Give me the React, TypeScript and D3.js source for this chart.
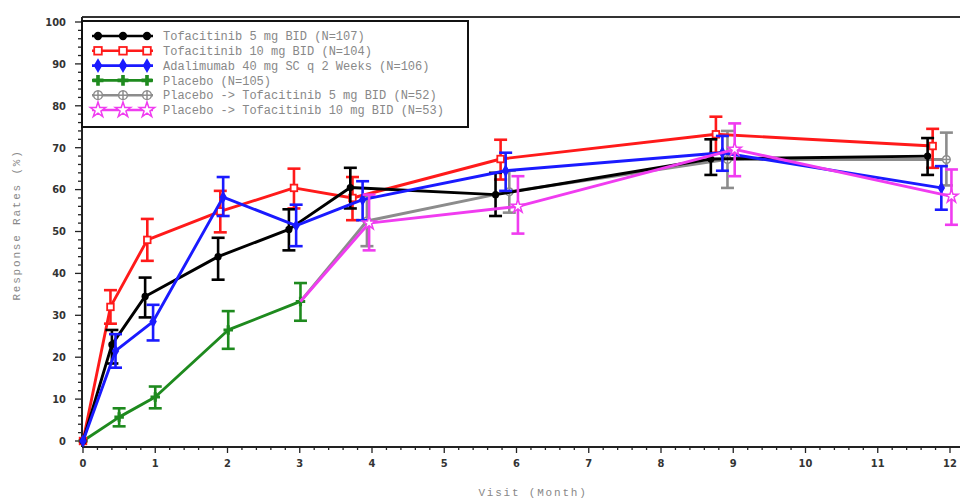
import * as d3 from "d3";

// visit (month) positions, values and 95% CI
const blackX = [0, 0.4, 0.86, 1.87, 2.85, 3.7, 5.71, 8.69, 11.69];
const blackY = [0, 23, 34.5, 44, 50.5, 60.5, 58.8, 67.3, 68];
const blackLo = [0, 18.5, 29.5, 38.5, 45.5, 55.5, 53.7, 63.5, 63.5];
const blackHi = [0, 26.5, 39, 48.5, 55.3, 65.2, 64, 72, 72.3];

const redX = [0, 0.38, 0.89, 1.9, 2.92, 3.73, 5.78, 8.76, 11.76];
const redY = [0, 32, 48, 54.8, 60.4, 58, 67.3, 73.2, 70.4];
const redLo = [0, 28, 43, 49.8, 55.5, 52.7, 62.4, 68.8, 65.2];
const redHi = [0, 36, 53, 59.7, 65, 63, 71.9, 77.4, 74.5];

const blueX = [0, 0.45, 0.97, 1.94, 2.95, 3.87, 5.85, 8.85, 11.88];
const blueY = [0, 21.5, 28.5, 58.2, 51.4, 57.6, 64.5, 68.8, 60.4];
const blueLo = [0, 17.5, 24, 53.7, 46.5, 52.7, 59.7, 64.5, 55.2];
const blueHi = [0, 25.5, 32.5, 63, 56.4, 62, 68.8, 72.8, 65.6];

const greenX = [0, 0.5, 1.0, 2.01, 3.01];
const greenY = [0, 5.7, 10.5, 26.5, 33.3];
const greenLo = [0, 3.5, 7.8, 22, 28.7];
const greenHi = [0, 7.8, 13, 31, 37.7];

// switch arms start from the placebo month-3 point
const grayX = [3.01, 3.93, 5.9, 8.92, 11.95];
const grayY = [33.3, 52.5, 59.5, 67.2, 67.2];
const grayLo = [33.3, 46.5, 54.5, 60.4, 61];
const grayHi = [33.3, 58.5, 64.5, 74, 73.6];

const pinkX = [3.01, 3.96, 6.02, 9.02, 12.02];
const pinkY = [33.3, 52, 56, 69.6, 58.4];
const pinkLo = [33.3, 45.5, 49.5, 63.2, 51.6];
const pinkHi = [33.3, 58.8, 63.2, 75.8, 64.8];

const xTicks = [0, 1, 2, 3, 4, 5, 6, 7, 8, 9, 10, 11, 12];
const yTicks = [0, 10, 20, 30, 40, 50, 60, 70, 80, 90, 100];

const series = [
  {name: "Tofacitinib 5 mg BID (N=107)", color: "#000000", marker: "dot", x: blackX, y: blackY, lo: blackLo, hi: blackHi, skipFirst: false},
  {name: "Tofacitinib 10 mg BID (N=104)", color: "#ff1a1a", marker: "square", x: redX, y: redY, lo: redLo, hi: redHi, skipFirst: false},
  {name: "Adalimumab 40 mg SC q 2 Weeks (N=106)", color: "#1a1aff", marker: "diamond", x: blueX, y: blueY, lo: blueLo, hi: blueHi, skipFirst: false},
  {name: "Placebo (N=105)", color: "#1e8a1e", marker: "cross", x: greenX, y: greenY, lo: greenLo, hi: greenHi, skipFirst: false},
  {name: "Placebo -> Tofacitinib 5 mg BID (N=52)", color: "#8c8c8c", marker: "circleplus", x: grayX, y: grayY, lo: grayLo, hi: grayHi, skipFirst: true},
  {name: "Placebo -> Tofacitinib 10 mg BID (N=53)", color: "#f03cf0", marker: "star", x: pinkX, y: pinkY, lo: pinkLo, hi: pinkHi, skipFirst: true},
];

// drawing order (last on top)
const drawOrder = [3, 4, 1, 0, 2, 5];

const W = 960;
const H = 501;
const x = d3.scaleLinear().domain([0, 12]).range([83, 950]);
const y = d3.scaleLinear().domain([0, 100]).range([441, 22]);
const axisY = 447;
const axisX = 82;
const frameTop = 17;

function Marker({kind, cx, cy, color, s = 1}) {
  if (kind === "dot") return <circle cx={cx} cy={cy} r={3.6 * s} fill={color}/>;
  if (kind === "square")
    return <rect x={cx - 3.3 * s} y={cy - 3.3 * s} width={6.6 * s} height={6.6 * s} fill="white" stroke={color} strokeWidth={1.8}/>;
  if (kind === "diamond")
    return <path d={d3.symbol(d3.symbolDiamond, 48 * s * s)()} transform={`translate(${cx},${cy})`} fill={color}/>;
  if (kind === "cross")
    return <path d={d3.symbol(d3.symbolCross, 50 * s * s)()} transform={`translate(${cx},${cy})`} fill={color}/>;
  if (kind === "circleplus")
    return (
      <g stroke={color} strokeWidth={1.5} fill="white">
        <circle cx={cx} cy={cy} r={3.8 * s}/>
        <line x1={cx - 3.8 * s} x2={cx + 3.8 * s} y1={cy} y2={cy}/>
        <line x1={cx} x2={cx} y1={cy - 3.8 * s} y2={cy + 3.8 * s}/>
      </g>
    );
  return <path d={d3.symbol(d3.symbolStar, 55 * s * s)()} transform={`translate(${cx},${cy})`} fill="white" stroke={color} strokeWidth={1.5}/>;
}

export default function App() {
  const line = d3.line<number>().x(d => d[0]).y(d => d[1]);

  const xMinor = d3.range(0, 12.001, 0.2);
  const yMinor = d3.range(0, 100.001, 2);

  const labelFont = "'DejaVu Sans Condensed', 'DejaVu Sans', sans-serif";
  const monoFont = "'Liberation Mono', 'DejaVu Sans Mono', monospace";

  return (
    <svg width={W} height={H} style={{position: "absolute", left: 0, top: 0, background: "white"}}>
      {/* frame */}
      <line x1={axisX} x2={W} y1={frameTop} y2={frameTop} stroke="#333" strokeWidth={2}/>
      <line x1={axisX} x2={axisX} y1={frameTop} y2={axisY} stroke="#222" strokeWidth={2}/>
      <line x1={axisX} x2={W} y1={axisY} y2={axisY} stroke="#222" strokeWidth={2}/>

      {/* y axis ticks */}
      {yMinor.map(v => (
        <line key={"ym" + v} x1={axisX - (v % 10 === 0 ? 7 : 4)} x2={axisX} y1={y(v)} y2={y(v)} stroke="#222" strokeWidth={1.3}/>
      ))}
      {yTicks.map(v => (
        <text key={"yt" + v} x={66} y={y(v)} dy="0.35em" textAnchor="end" fontFamily={labelFont}
              fontWeight="bold" fontSize={11} fill="#333">{v}</text>
      ))}

      {/* x axis ticks */}
      {xMinor.map(v => (
        <line key={"xm" + v} x1={x(v)} x2={x(v)} y1={axisY} y2={axisY + (Math.abs(v - Math.round(v)) < 0.01 ? 6 : 3)} stroke="#222" strokeWidth={1.3}/>
      ))}
      {xTicks.map(v => (
        <text key={"xt" + v} x={x(v)} y={467} textAnchor="middle" fontFamily={labelFont}
              fontWeight="bold" fontSize={11} fill="#333">{v}</text>
      ))}

      {/* axis titles */}
      <text x={533} y={496} textAnchor="middle" fontFamily={monoFont} fontSize={11} letterSpacing={1.8} fill="#888">Visit (Month)</text>
      <text transform={`translate(20,${225}) rotate(-90)`} textAnchor="middle" fontFamily={monoFont} fontSize={11}
            letterSpacing={1.8} fill="#888">Response Rates (%)</text>

      {/* series */}
      {drawOrder.map(i => {
        const s = series[i];
        const pts = s.x.map((v, j) => [x(v), y(s.y[j])]);
        return (
          <g key={s.name}>
            <path d={line(pts)} fill="none" stroke={s.color} strokeWidth={2.9} strokeLinejoin="round"/>
            {s.x.map((v, j) => {
              if (s.lo[j] === s.hi[j]) return null;
              const cx = x(v);
              return (
                <g key={"e" + j} stroke={s.color} strokeWidth={2.6}>
                  <line x1={cx} x2={cx} y1={y(s.lo[j])} y2={y(s.hi[j])}/>
                  <line x1={cx - 6.5} x2={cx + 6.5} y1={y(s.lo[j])} y2={y(s.lo[j])}/>
                  <line x1={cx - 6.5} x2={cx + 6.5} y1={y(s.hi[j])} y2={y(s.hi[j])}/>
                </g>
              );
            })}
            {s.x.map((v, j) => (s.skipFirst && j === 0) ? null : (
              <Marker key={"m" + j} kind={s.marker} cx={x(v)} cy={y(s.y[j])} color={s.color}/>
            ))}
          </g>
        );
      })}

      {/* legend */}
      <g>
        <rect x={axisX} y={21} width={386} height={106} fill="white" stroke="#111" strokeWidth={2}/>
        {series.map((s, i) => {
          const ly = 36 + i * 14.8;
          return (
            <g key={"lg" + i}>
              <line x1={92} x2={153} y1={ly} y2={ly} stroke={s.color} strokeWidth={2.6}/>
              {[98, 123, 147].map(mx => (
                <Marker key={mx} kind={s.marker} cx={mx} cy={ly} color={s.color} s={1.15}/>
              ))}
              <text x={163} y={ly} dy="0.35em" fontFamily={monoFont} fontSize={12} fill="#888">{s.name}</text>
            </g>
          );
        })}
      </g>
    </svg>
  );
}
